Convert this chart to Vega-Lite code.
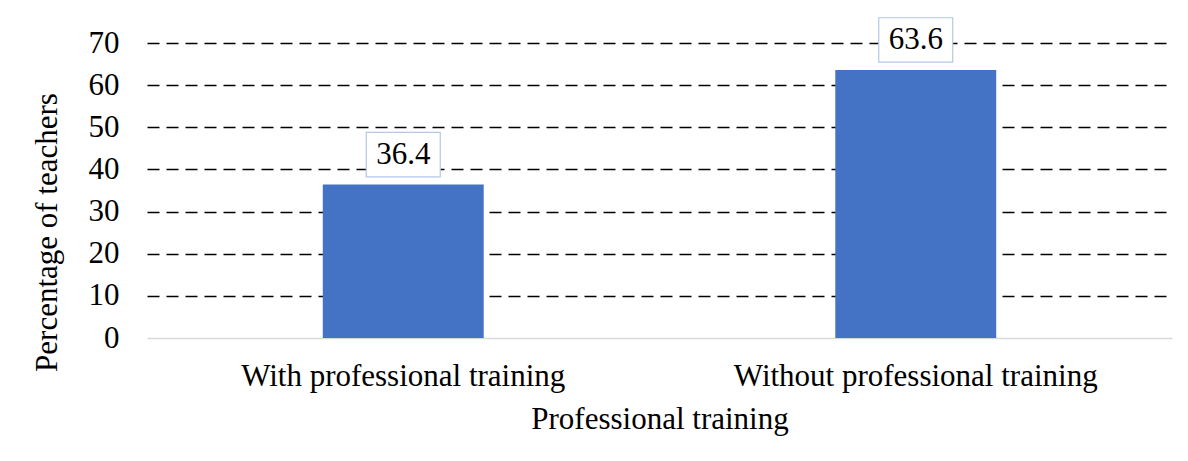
{
  "$schema": "https://vega.github.io/schema/vega-lite/v6.json",
  "width": 1025,
  "height": 295,
  "autosize": {"type": "none"},
  "padding": {"left": 147, "top": 43, "right": 16, "bottom": 123},
  "background": "white",
  "config": {
    "view": {"stroke": null},
    "font": "Liberation Serif"
  },
  "data": {
    "values": [
      {"training": "With professional training", "pct": 36.4},
      {"training": "Without professional training", "pct": 63.6}
    ]
  },
  "encoding": {
    "x": {
      "field": "training",
      "type": "nominal",
      "sort": null,
      "scale": {"paddingInner": 0, "paddingOuter": 0},
      "axis": {
        "title": "Professional training",
        "labelAngle": 0,
        "labelLimit": 0,
        "labelFont": "Liberation Serif",
        "labelFontSize": 31,
        "labelColor": "black",
        "labelPadding": 23,
        "titleFont": "Liberation Serif",
        "titleFontSize": 31,
        "titleFontWeight": "normal",
        "titleColor": "black",
        "titlePadding": 13,
        "ticks": false,
        "domainColor": "#d9d9d9",
        "domainWidth": 1.5
      }
    },
    "y": {
      "field": "pct",
      "type": "quantitative",
      "scale": {"domain": [0, 70]},
      "axis": {
        "title": "Percentage of teachers",
        "values": [0, 10, 20, 30, 40, 50, 60, 70],
        "labelFont": "Liberation Serif",
        "labelFontSize": 31,
        "labelColor": "black",
        "labelPadding": 28,
        "titleFont": "Liberation Serif",
        "titleFontSize": 31,
        "titleFontWeight": "normal",
        "titleColor": "black",
        "titleX": -100,
        "titleY": 189,
        "titleAnchor": null,
        "titleAlign": "center",
        "titleBaseline": "middle",
        "domain": false,
        "ticks": false,
        "grid": true,
        "gridColor": {"condition": {"test": "datum.value === 0", "value": "transparent"}, "value": "black"},
        "gridDash": [12, 7],
        "gridWidth": 1.5
      }
    }
  },
  "layer": [
    {
      "mark": {"type": "bar", "color": "#4472c4", "width": {"band": 0.314}}
    },
    {
      "mark": {
        "type": "point",
        "shape": "M-1,-0.6L1,-0.6L1,0.6L-1,0.6Z",
        "size": 5476,
        "filled": true,
        "fill": "white",
        "stroke": "#b4c7e7",
        "strokeWidth": 1.2,
        "opacity": 1,
        "yOffset": -30
      }
    },
    {
      "mark": {
        "type": "text",
        "font": "Liberation Serif",
        "fontSize": 31,
        "color": "black",
        "baseline": "middle",
        "yOffset": -30
      },
      "encoding": {"text": {"field": "pct", "type": "quantitative", "format": ".1f"}}
    }
  ]
}
